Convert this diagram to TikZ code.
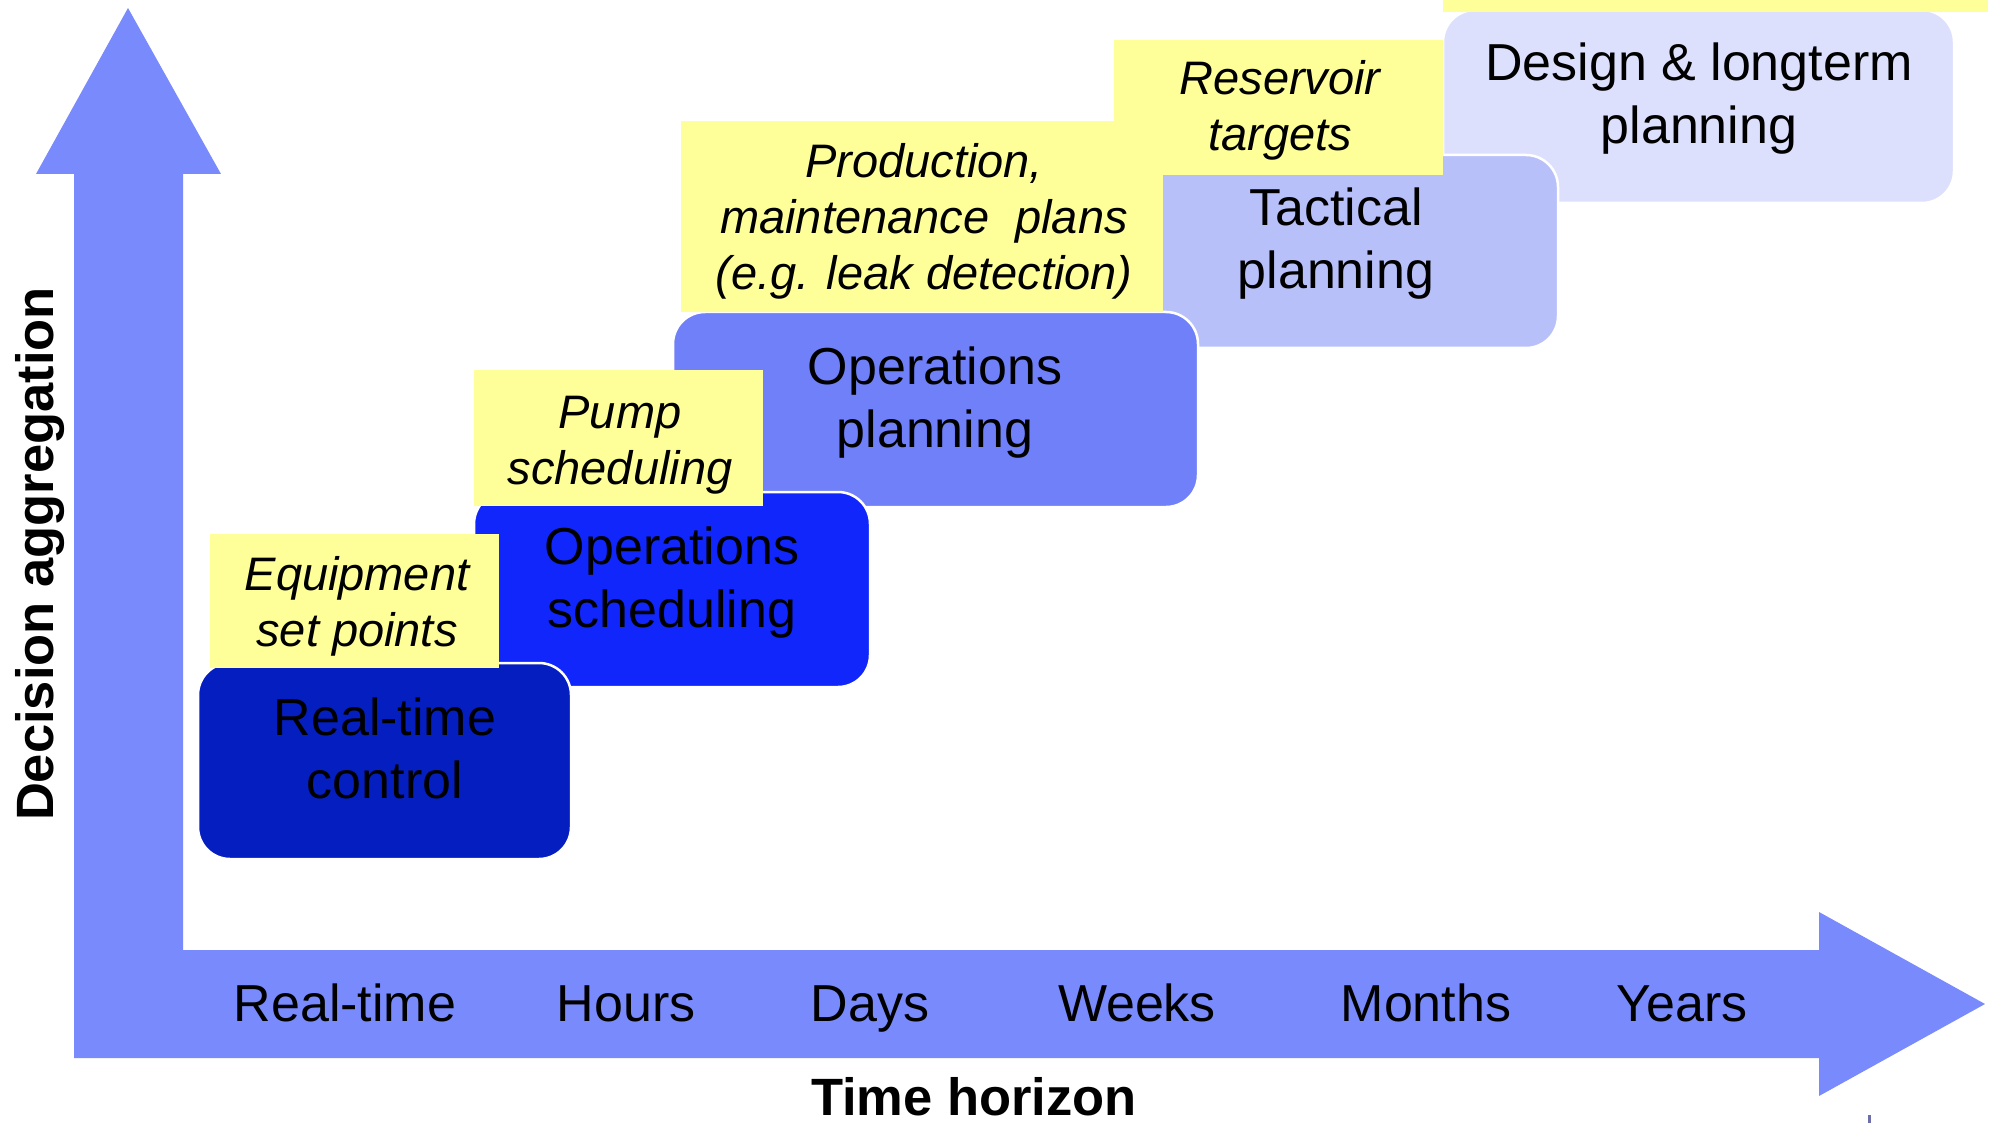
\documentclass[tikz,border=0pt]{standalone}
\usepackage{fontspec}
\setmainfont{Liberation Sans}
\definecolor{arrowblue}{RGB}{120,138,252}
\definecolor{rtblue}{RGB}{5,30,192}
\definecolor{osblue}{RGB}{16,38,250}
\definecolor{opblue}{RGB}{112,128,248}
\definecolor{tpblue}{RGB}{184,192,250}
\definecolor{dlblue}{RGB}{221,224,252}
\definecolor{noteyellow}{RGB}{255,255,153}
\definecolor{tickgray}{RGB}{110,110,170}
\tikzset{
  levelbox/.style={draw=white, line width=2.5pt, rounded corners=32pt},
  notebox/.style={fill=noteyellow, draw=none},
  boxtext/.style={anchor=base, align=center, inner sep=0pt, font=\fontsize{52}{63}\selectfont},
  notetext/.style={anchor=base, align=center, inner sep=0pt, font=\fontsize{47}{56}\selectfont\itshape},
  axistext/.style={anchor=base, inner sep=0pt, font=\fontsize{52}{63}\selectfont},
  axistitle/.style={anchor=base, inner sep=0pt, font=\fontsize{52.5}{63}\selectfont\bfseries}
}
\begin{document}
\begin{tikzpicture}[x=1pt, y=-1pt]
\useasboundingbox (0,0) rectangle (2003,1123);
% axes arrow
\fill[arrowblue] (128,8) -- (221,174) -- (183,174) -- (183,950) -- (1819,950) -- (1819,912)
  -- (1985,1004) -- (1819,1096) -- (1819,1058) -- (74,1058) -- (74,174) -- (36,174) -- cycle;
% Design & longterm planning
\filldraw[levelbox, fill=dlblue] (1443,10) rectangle (1954,203);
\fill[notebox] (1443,0) rectangle (1988,12);
% Tactical planning
\filldraw[levelbox, fill=tpblue] (1140,155) rectangle (1558,348);
\fill[notebox] (1114,40) rectangle (1443,175);
% Operations planning
\filldraw[levelbox, fill=opblue] (673,312) rectangle (1198,507);
\fill[notebox] (681,121) rectangle (1163,312);
% Operations scheduling
\filldraw[levelbox, fill=osblue] (474,492) rectangle (870,687);
\fill[notebox] (474,370) rectangle (763,506);
% Real-time control
\filldraw[levelbox, fill=rtblue] (198,663) rectangle (571,859);
\fill[notebox] (210,534) rectangle (499,668);
% box texts (anchor = baseline of last line)
\node[boxtext] (rtc) at (385,798) {Real-time\\control};
\node[boxtext] (osc) at (672,627) {Operations\\scheduling};
\node[boxtext] (opl) at (935,447) {Operations\\planning};
\node[boxtext] (tpl) at (1336,289) {Tactical\\planning};
\node[boxtext] (dlp) at (1699,144) {Design \& longterm\\planning};
% note texts
\node[notetext] (esp) at (357,646) {Equipment\\set points};
\node[notetext] (psc) at (620,484) {Pump\\scheduling};
\node[notetext] (pmp) at (924,290) {Production,\\maintenance\ \ plans\\(e.g. leak detection)};
\node[notetext] (rtg) at (1280,151) {Reservoir\\targets};
% time labels
\node[axistext] (trt) at (345,1021) {Real-time};
\node[axistext] (thr) at (626,1021) {Hours};
\node[axistext] (tdy) at (870,1021) {Days};
\node[axistext] (twk) at (1137,1021) {Weeks};
\node[axistext] (tmo) at (1426,1021) {Months};
\node[axistext] (tyr) at (1682,1021) {Years};
% axis titles
\node[axistitle] (th) at (974,1115) {Time horizon};
\node[axistitle, rotate=90] (da) at (53,554) {Decision aggregation};
% small tick at the bottom
\fill[tickgray] (1868,1115) rectangle (1871,1123);
\end{tikzpicture}
\end{document}
